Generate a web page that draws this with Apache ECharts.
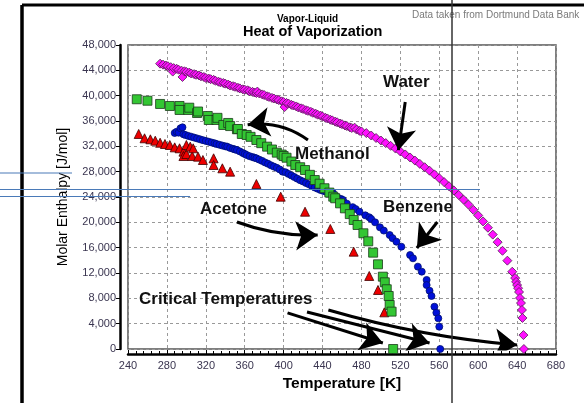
<!DOCTYPE html>
<html>
<head>
<meta charset="utf-8">
<script src="https://cdn.jsdelivr.net/npm/echarts@6/dist/echarts.min.js"></script>
<style>
  html, body { margin: 0; padding: 0; background: #fff; }
  #chart { width: 584px; height: 403px; }
</style>
</head>
<body>
<div id="chart"></div>
<script>
// temperature [K], molar enthalpy [J/mol]
const water = [
  [273,45050],[276,44900],[279,44750],[281,44650],[284,44500],[286,43800],[287,44350],[290,44250],
  [292,44100],[295,43950],[296,42950],[298,43850],[300,43750],[303,43650],[305,43500],[308,43400],
  [310,43300],[313,43200],[315,43050],[318,42950],[320,42800],[323,42700],[325,42600],[328,42500],
  [330,42350],[333,42200],[335,42100],[338,42000],[340,41900],[343,41750],[345,41600],[348,41500],
  [350,41400],[353,41250],[355,41150],[358,41000],[360,40950],[363,40850],[365,40700],[368,40600],
  [370,40500],[372,40420],[373,40650],[375,40350],[378,40200],[380,40100],[383,39900],[385,39800],
  [388,39650],[390,39550],[393,39400],[395,39300],[398,39100],[400,39000],[401,38200],[403,38850],
  [405,38750],[408,38550],[410,38450],[413,38300],[415,38150],[418,38000],[420,37900],[423,37700],
  [425,37600],[428,37450],[430,37300],[433,37150],[435,37000],[438,36850],[440,36700],[443,36500],
  [445,36400],[448,36200],[450,36100],[453,35900],[455,35800],[458,35600],[460,35500],[463,35300],
  [465,35200],[468,35000],[470,34900],[473,34950],[475,34650],[478,34450],[480,34350],
  [485,34090],[490,33710],[495,33320],[500,32920],[505,32510],[510,32080],[515,31650],[520,31190],
  [525,30720],[530,30240],[535,29750],[540,29230],[545,28700],[550,28150],[555,27570],[560,26970],
  [565,26350],[570,25700],[575,25030],[580,24320],[585,23580],[590,22800],[595,21970],[600,21090],
  [605,20150],[610,19150],[615,18060],[620,16870],[625,15510],[630,13950],[635,12200],[638,11200],
  [639,10600],[640,10100],[641,9600],[642,9000],[643,8050],[644,7260],[645,6160],[645.5,4900],
  [646.5,2200],[647,0]
];
const methanol = [
  [249,39430],[260,39200],[273,38690],[283,38370],[293,38370],[293,37740],[302,37740],[303,38100],
  [311,37260],[312,37500],[322,36790],[323,36160],[331,36160],[332,36500],[338,35370],[343,35690],
  [345,35200],[352,34690],[353,34740],[357,33950],[362,33790],[366,33500],[372,33000],[377,32500],
  [383,31950],[388,31500],[393,31000],[398,30700],[400,30470],[403,30200],[408,29600],[412,29050],
  [417,28700],[422,28260],[427,27500],[432,26680],[437,26100],[442,25380],[447,24700],[451,24050],
  [453,23800],[458,23000],[463,22210],[468,21300],[472,20370],[476,19580],[482,18270],[487,17000],
  [492,15210],[497,13370],[502,11420],[504,10530],[506,9430],[508,8370],[509,6950],[511,5900],
  [512.6,0]
];
const benzene = [
  [288,34110],[290,34300],[292,34160],[294,34850],[296,35000],[297,33900],[299,33790],[302,33650],
  [305,33520],[308,33380],[311,33250],[314,33110],[317,32980],[320,32850],[323,32730],[326,32600],
  [329,32480],[331,32370],[334,32250],[337,32120],[340,32000],[342,31950],[345,31750],[348,31600],
  [350,31500],[352,31420],[355,31200],[358,30950],[360,30800],[362,30630],[365,30450],[368,30300],
  [370,30200],[372,30110],[375,29900],[378,29700],[381,29450],[384,29250],[387,29000],[390,28800],
  [393,28600],[396,28350],[399,28000],[402,27900],[405,27650],[408,27400],[411,27150],[414,26900],
  [417,26650],[420,26450],[423,26210],[426,26000],[429,25750],[432,25500],[435,25300],[438,25100],
  [441,24950],[444,24800],[447,24700],[451,24580],[455,24000],[459,23700],[461,23530],[465,22950],
  [471,22400],[474,22100],[478,21680],[484,21100],[488,20800],[490,20530],[494,20000],[499,19210],
  [503,18700],[509,18000],[512,17500],[516,16940],[521,16150],[530,14840],[533,14320],[538,13000],
  [542,12210],[547,10900],[547,10100],[550,9200],[552,8370],[555,6680],[557,5730],[559,4840],
  [560,3520],[561,0]
];
const acetone = [
  [251,33950],[257,33270],[263,33110],[268,32890],[273,32570],[278,32370],[283,32210],[288,31840],
  [293,31690],[297,31160],[297,30470],[300,32210],[300,30790],[304,31950],[306,30470],[307,31690],
  [312,30370],[317,29840],[328,30110],[328,29050],[337,28530],[345,28000],[372,26050],[397,24050],
  [422,21680],[448,18950],[472,15370],[488,11530],[497,9320],[503.5,5790]
];
// arrows: [from, to, curveness]
const arrows = [
  [[525,39000],[518,31400],0],
  [[425,33000],[363,35400],-0.2],
  [[558,20050],[537,15950],0],
  [[352,20050],[435,18000],-0.1],
  [[404,5700],[502,950],0],
  [[424,5850],[550,950],0],
  [[446,6150],[640,630],-0.05]
];

const chart = echarts.init(document.getElementById('chart'));
const font = '"Liberation Sans", Arial, sans-serif';

function scatter (name, data, symbol, size, color, border) {
  return {
    name: name,
    type: 'scatter',
    data: data,
    symbol: symbol,
    symbolSize: size,
    itemStyle: { color: color, borderColor: border, borderWidth: 0.8, opacity: 1 },
    silent: true
  };
}

function note (text, left, top) {
  return { type: 'text', left: left, top: top, z: 50, style: { text: text, font: 'bold 17px ' + font, fill: '#111' } };
}

const option = {
  animation: false,
  textStyle: { fontFamily: font },
  grid: {
    left: 128, right: 28, top: 45, bottom: 54,
    show: true, borderColor: '#555', borderWidth: 1.5, backgroundColor: '#fff'
  },
  xAxis: {
    type: 'value', min: 240, max: 680, interval: 40, offset: 5,
    name: 'Temperature [K]', nameLocation: 'middle', nameGap: 19,
    nameTextStyle: { fontSize: 15.5, fontWeight: 'bold', color: '#000', fontFamily: font },
    axisLine: { show: true, onZero: false, lineStyle: { color: '#000', width: 2.5 } },
    axisTick: { show: true, inside: true, length: 4, lineStyle: { color: '#000' } },
    minorTick: { show: true, splitNumber: 5, length: 3, lineStyle: { color: '#000' } },
    axisLabel: { fontSize: 11, color: '#3a3550', margin: 6 },
    splitLine: { show: true, lineStyle: { color: '#999', type: [3, 3], width: 1 } }
  },
  yAxis: {
    type: 'value', min: 0, max: 48000, interval: 4000, offset: 8,
    name: 'Molar Enthalpy [J/mol]', nameLocation: 'middle', nameGap: 50,
    nameTextStyle: { fontSize: 14, color: '#000', fontFamily: font },
    axisLine: { show: true, onZero: false, lineStyle: { color: '#000', width: 2.5 } },
    axisTick: { show: true, length: 4, lineStyle: { color: '#000' } },
    axisLabel: {
      fontSize: 11, color: '#3a3550', margin: 4,
      formatter: v => v.toLocaleString('en-US')
    },
    splitLine: { show: true, lineStyle: { color: '#999', type: [3, 3], width: 1 } }
  },
  series: [
    scatter('Benzene', benzene, 'circle', 7, '#0010d8', '#001070'),
    scatter('Acetone', acetone, 'triangle', 9, '#ee0000', '#400000'),
    scatter('Methanol', methanol, 'rect', 9, '#33c633', '#1a3a1a'),
    scatter('Water', water, 'diamond', 9, '#ff10ff', '#502050'),
    {
      name: 'arrows',
      type: 'lines',
      coordinateSystem: 'cartesian2d',
      silent: true,
      z: 5,
      symbol: ['none', 'arrow'],
      symbolSize: [17, 22],
      lineStyle: { color: '#000', width: 3, opacity: 1 },
      data: arrows.map(a => ({ coords: [a[0], a[1]], lineStyle: { curveness: a[2] } }))
    }
  ],
  graphic: [
    // frame of the screenshot
    { type: 'line', shape: { x1: 22, y1: 5, x2: 584, y2: 5 }, style: { stroke: '#000', lineWidth: 3 } },
    { type: 'line', shape: { x1: 22, y1: 5, x2: 22, y2: 403 }, style: { stroke: '#000', lineWidth: 3.5 } },
    { type: 'line', shape: { x1: 452, y1: 0, x2: 452, y2: 403 }, style: { stroke: '#333', lineWidth: 1.5 }, z: 100 },
    { type: 'line', shape: { x1: 0, y1: 173, x2: 72, y2: 173 }, style: { stroke: '#4a7ab8', lineWidth: 1.2 }, z: 100 },
    { type: 'line', shape: { x1: 0, y1: 189.5, x2: 480, y2: 189.5 }, style: { stroke: '#4a7ab8', lineWidth: 1.2 }, z: 100 },
    { type: 'line', shape: { x1: 0, y1: 196.5, x2: 190, y2: 196.5 }, style: { stroke: '#4a7ab8', lineWidth: 1.2 }, z: 100 },
    // titles
    { type: 'text', left: 277, top: 14, style: { text: 'Vapor-Liquid', font: 'bold 10px ' + font, fill: '#000' } },
    { type: 'text', left: 243, top: 24, style: { text: 'Heat of Vaporization', font: 'bold 14.5px ' + font, fill: '#000' } },
    { type: 'text', left: 412, top: 10, style: { text: 'Data taken from Dortmund Data Bank', font: '10px ' + font, fill: '#7a7a7a' } },
    // annotations
    note('Water', 383, 74),
    note('Methanol', 295, 146),
    note('Benzene', 383, 199),
    note('Acetone', 200, 201),
    note('Critical Temperatures', 139, 291)
  ]
};
chart.setOption(option);
</script>
</body>
</html>
